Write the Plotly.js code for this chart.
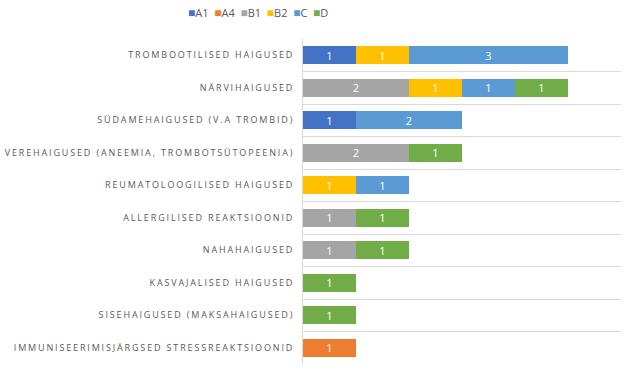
<!DOCTYPE html>
<html>
<head>
<meta charset="utf-8">
<script src="https://cdn.plot.ly/plotly-3.0.1.min.js"></script>
<style>
html,body{margin:0;padding:0;background:#fff;}
.ytick text{letter-spacing:1.85px;}
</style>
</head>
<body>
<div id="chart" style="width:629px;height:371px;"></div>
<script>
const categories = [
  "TROMBOOTILISED HAIGUSED",
  "NÄRVIHAIGUSED",
  "SÜDAMEHAIGUSED (V.A TROMBID)",
  "VEREHAIGUSED (ANEEMIA, TROMBOTSÜTOPEENIA)",
  "REUMATOLOOGILISED HAIGUSED",
  "ALLERGILISED REAKTSIOONID",
  "NAHAHAIGUSED",
  "KASVAJALISED HAIGUSED",
  "SISEHAIGUSED (MAKSAHAIGUSED)",
  "IMMUNISEERIMISJÄRGSED STRESSREAKTSIOONID"
];
const seriesNames = ["A1", "A4", "B1", "B2", "C", "D"];
const seriesColors = ["#4472C4", "#ED7D31", "#A5A5A5", "#FFC000", "#5B9BD5", "#70AD47"];
const A1 = [1, null, 1, null, null, null, null, null, null, null];
const A4 = [null, null, null, null, null, null, null, null, null, 1];
const B1 = [null, 2, null, 2, null, 1, 1, null, null, null];
const B2 = [1, 1, null, null, 1, null, null, null, null, null];
const C  = [3, 1, 2, null, 1, null, null, null, null, null];
const D  = [null, 1, null, 1, null, 1, 1, 1, 1, null];
const seriesValues = [A1, A4, B1, B2, C, D];

const traces = seriesNames.map((name, i) => ({
  type: "bar",
  orientation: "h",
  name: name,
  y: categories,
  x: seriesValues[i],
  marker: {color: seriesColors[i]},
  text: seriesValues[i].map(v => v == null ? "" : String(v)),
  texttemplate: "%{text}",
  textposition: "inside",
  insidetextanchor: "middle",
  textangle: 0,
  constraintext: "none",
  textfont: {color: "#FFFFFF", size: 11, family: "Open Sans, sans-serif"},
  hoverinfo: "none",
  showlegend: false
}));

const legendText = seriesNames.map((n, i) =>
  `<span style="color:${seriesColors[i]};font-size:12px">■</span>${n}`
).join("  ");

const layout = {
  width: 629,
  height: 371,
  margin: {l: 303, r: 8, t: 39, b: 7, pad: 0},
  paper_bgcolor: "#FFFFFF",
  plot_bgcolor: "#FFFFFF",
  barmode: "stack",
  bargap: 0.446,
  font: {family: "Open Sans, sans-serif", color: "#595959"},
  xaxis: {
    range: [0, 6],
    showgrid: false,
    zeroline: false,
    showticklabels: false,
    showline: false,
    ticks: ""
  },
  yaxis: {
    type: "category",
    autorange: "reversed",
    tickson: "boundaries",
    showgrid: true,
    gridcolor: "#D9D9D9",
    gridwidth: 1,
    showline: true,
    linecolor: "#D9D9D9",
    linewidth: 1,
    ticks: "",
    ticklabelstandoff: 6,
    tickfont: {family: "Open Sans, sans-serif", size: 9, color: "#595959"},
    zeroline: false
  },
  annotations: [{
    xref: "paper", yref: "paper",
    x: -0.14, y: 1.082,
    xanchor: "center", yanchor: "middle",
    text: legendText,
    showarrow: false,
    font: {family: "Open Sans, sans-serif", size: 11, color: "#595959"}
  }]
};

Plotly.newPlot("chart", traces, layout, {displayModeBar: false, staticPlot: true});
</script>
</body>
</html>
